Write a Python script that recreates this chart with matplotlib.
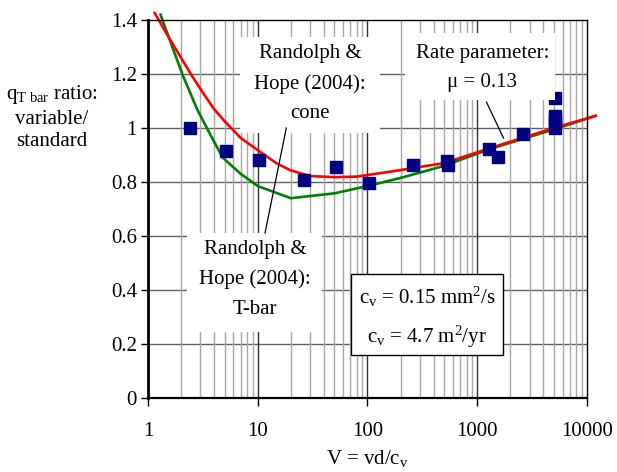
import matplotlib
matplotlib.use("Agg")
import matplotlib.pyplot as plt
from matplotlib.patches import Rectangle
from matplotlib.ticker import FixedLocator, NullFormatter, FixedFormatter, LogLocator

plt.rcParams['font.family'] = ['Liberation Serif', 'DejaVu Serif']
plt.rcParams['mathtext.fontset'] = 'custom'
plt.rcParams['mathtext.rm'] = 'Liberation Serif'
plt.rcParams['mathtext.it'] = 'Liberation Serif:italic'

# ---- data ----
cone_x = [1.15, 1.5, 2, 2.5, 3, 4, 5, 7, 10, 15, 20, 30, 50, 80, 160, 500, 1300, 5000, 12000]
cone_y = [1.426, 1.345, 1.26, 1.195, 1.145, 1.07, 1.025, 0.963, 0.918, 0.868, 0.843, 0.822,
          0.818, 0.82, 0.838, 0.87, 0.925, 1.0, 1.045]

tbar_x = [1.3, 1.7, 2.1, 2.8, 3.7, 4.8, 7, 10, 20, 50, 100, 200, 500, 1300, 5000, 12000]
tbar_y = [1.42, 1.29, 1.19, 1.07, 0.975, 0.89, 0.83, 0.785, 0.74, 0.758, 0.785, 0.815,
          0.86, 0.922, 0.995, 1.045]

meas_x = [2.4, 5.1, 10.3, 26.5, 52, 104, 262, 530, 540, 1290, 1560, 2630, 5100, 5100, 5100, 5100, 5100]
meas_y = [1.0, 0.916, 0.883, 0.809, 0.857, 0.798, 0.864, 0.877, 0.862, 0.923, 0.894, 0.979,
          1.0, 1.02, 1.035, 1.045, 1.11]

x_ticks = [1, 10, 100, 1000, 10000]
x_tick_labels = ['1', '10', '100', '1000', '10000']
y_ticks = [0, 0.2, 0.4, 0.6, 0.8, 1.0, 1.2, 1.4]
y_tick_labels = ['0', '0.2', '0.4', '0.6', '0.8', '1', '1.2', '1.4']

# ---- figure ----
W, H = 617, 472
fig = plt.figure(figsize=(W / 100, H / 100), dpi=100)
ax = fig.add_axes([148 / W, 1 - 398 / H, 439 / W, 378 / H])
ax.set_xscale('log')
ax.set_xlim(1, 10000)
ax.set_ylim(0, 1.4)

# grid
for yv in y_ticks[1:-1]:
    ax.axhline(yv, color='#606060', lw=1.0, zorder=1)
for dec in [1, 10, 100, 1000]:
    for m in range(2, 10):
        ax.axvline(dec * m, color='#a8a8a8', lw=1.0, zorder=1)
for dec in [10, 100, 1000]:
    ax.axvline(dec, color='#303030', lw=1.0, zorder=1.1)

# curves
ax.plot(tbar_x, tbar_y, color='#008000', lw=1.9, zorder=3, clip_on=False)
ax.plot(cone_x, cone_y, color='#ff0000', lw=1.9, zorder=3.1, clip_on=False)
ax.plot(meas_x, meas_y, linestyle='none', marker='s', markersize=8,
        color='#000080', markeredgecolor='#000080', zorder=4)

# white boxes behind labels (axes coords)
def wbox(x0, y0, x1, y1, edge='none'):
    ax.add_patch(Rectangle((x0, y0), x1 - x0, y1 - y0, transform=ax.transAxes,
                           facecolor='white', edgecolor=edge, lw=1.0, zorder=5))

wbox(0.2096, 0.701, 0.5285, 0.955)
wbox(0.585, 0.788, 0.927, 0.966)
wbox(0.0888, 0.1746, 0.3964, 0.4365)
wbox(0.4624, 0.1138, 0.8087, 0.328, edge='black')

fs = 15
ls = 1.75
ax.text(30, 1.164, 'Randolph &\nHope (2004):\ncone', ha='center', va='center',
        fontsize=fs, linespacing=ls, zorder=6)
ax.text(1115, 1.2227, 'Rate parameter:\nμ = 0.13', ha='center', va='center',
        fontsize=fs, linespacing=ls, zorder=6)
ax.text(9.47, 0.4396, 'Randolph &\nHope (2004):\nT-bar', ha='center', va='center',
        fontsize=fs, linespacing=ls, zorder=6)
ax.text(351, 0.299, 'c$_\\mathregular{v}$ = 0.15 mm$^\\mathregular{2}$/s\n'
        'c$_\\mathregular{v}$ = 4.7 m$^\\mathregular{2}$/yr', ha='center', va='center',
        fontsize=fs, linespacing=ls, zorder=6)

# leader lines
ax.plot([18.2, 11.65], [1.0, 0.611], color='black', lw=0.9, zorder=7)
ax.plot([1213, 1734], [1.096, 0.963], color='black', lw=0.9, zorder=7)

# axes styling
ax.xaxis.set_major_locator(FixedLocator(x_ticks))
ax.xaxis.set_major_formatter(FixedFormatter(x_tick_labels))
ax.xaxis.set_minor_locator(LogLocator(base=10, subs=range(2, 10)))
ax.xaxis.set_minor_formatter(NullFormatter())
ax.yaxis.set_major_locator(FixedLocator(y_ticks))
ax.yaxis.set_major_formatter(FixedFormatter(y_tick_labels))
ax.tick_params(axis='x', which='major', direction='out', length=6, width=1,
               labelsize=fs, pad=11)
ax.tick_params(axis='x', which='minor', length=0)
ax.tick_params(axis='y', which='major', direction='out', length=5, width=1,
               labelsize=fs, pad=3)
for s in ['top', 'right']:
    ax.spines[s].set_linewidth(1.0)
ax.spines['left'].set_linewidth(2.0)
ax.spines['bottom'].set_linewidth(1.6)
for s in ax.spines.values():
    s.set_zorder(8)

ax.set_xlabel('V = vd/c$_\\mathregular{v}$', fontsize=fs, labelpad=5)
fig.text(52 / W, 1 - 117 / H, 'q$_\\mathregular{T\\ bar}$ ratio:\nvariable/\nstandard',
         ha='center', va='center', fontsize=fs, linespacing=1.28)

fig.savefig('out.png', dpi=100)
